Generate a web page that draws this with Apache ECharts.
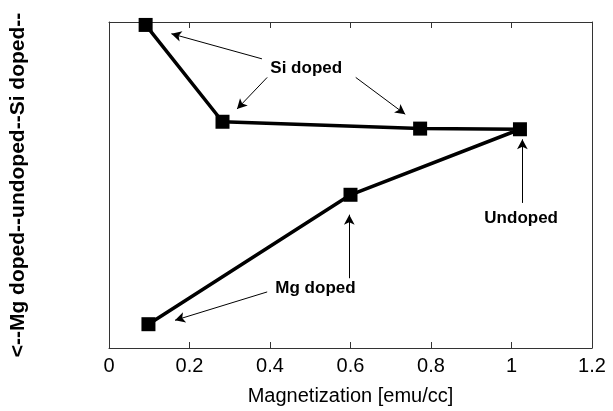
<!DOCTYPE html>
<html>
<head>
<meta charset="utf-8">
<script src="https://cdn.jsdelivr.net/npm/echarts@6/dist/echarts.min.js"></script>
<style>
  html, body { margin: 0; padding: 0; background: #fff; }
  #main { width: 613px; height: 411px; }
</style>
</head>
<body>
<div id="main"></div>
<script>
// 掺杂路径：Si doped -> undoped -> Mg doped，按顺序连线
var magX = [0.091, 0.282, 0.773, 1.021, 0.60, 0.098];
var dopeY = [0.991, 0.694, 0.673, 0.671, 0.470, 0.073];

var xTicks = [0, 0.2, 0.4, 0.6, 0.8, 1, 1.2];

// 注释文字 [x, y]
var notes = [
  { name: 'Si doped', at: [0.49, 0.858] },
  { name: 'Undoped', at: [1.024, 0.399] },
  { name: 'Mg doped', at: [0.513, 0.182] }
];

// 箭头 起点 -> 终点
var arrows = [
  [[0.38, 0.887], [0.155, 0.964]],
  [[0.393, 0.830], [0.318, 0.733]],
  [[0.613, 0.830], [0.736, 0.717]],
  [[1.027, 0.445], [1.027, 0.640]],
  [[0.393, 0.172], [0.164, 0.085]],
  [[0.597, 0.214], [0.597, 0.409]]
];

var font = '"Liberation Sans", Arial, Helvetica, sans-serif';
var axisCol = '#333';

var myChart = echarts.init(document.getElementById('main'));

var lineData = magX.map(function (x, i) { return [x, dopeY[i]]; });

var option = {
  backgroundColor: '#ffffff',
  animation: false,
  grid: { left: 103, right: 21, top: 22, bottom: 59 },
  xAxis: [
    {
      type: 'value',
      min: xTicks[0],
      max: xTicks[xTicks.length - 1],
      interval: 0.2,
      position: 'bottom',
      name: 'Magnetization [emu/cc]',
      nameLocation: 'middle',
      nameGap: 38,
      nameTextStyle: { fontFamily: font, fontSize: 20, color: '#000' },
      axisLine: { show: true, onZero: false, lineStyle: { color: axisCol, width: 1 } },
      axisTick: { show: true, inside: true, length: 6, lineStyle: { color: axisCol } },
      axisLabel: { fontFamily: font, fontSize: 20, color: '#000', margin: 8 },
      splitLine: { show: false }
    },
    {
      type: 'value',
      min: xTicks[0],
      max: xTicks[xTicks.length - 1],
      interval: 0.2,
      position: 'top',
      axisLine: { show: true, onZero: false, lineStyle: { color: axisCol, width: 1 } },
      axisTick: { show: true, inside: true, length: 6, lineStyle: { color: axisCol } },
      axisLabel: { show: false },
      splitLine: { show: false }
    }
  ],
  yAxis: [
    {
      type: 'value',
      min: 0,
      max: 1,
      position: 'left',
      name: '<--Mg doped--undoped--Si doped--',
      nameLocation: 'middle',
      nameGap: 80,
      nameTextStyle: { fontFamily: font, fontSize: 21, fontWeight: 'bold', color: '#000' },
      axisLine: { show: true, onZero: false, lineStyle: { color: axisCol, width: 1 } },
      axisTick: { show: false },
      axisLabel: { show: false },
      splitLine: { show: false }
    },
    {
      type: 'value',
      min: 0,
      max: 1,
      position: 'right',
      axisLine: { show: true, onZero: false, lineStyle: { color: axisCol, width: 1 } },
      axisTick: { show: false },
      axisLabel: { show: false },
      splitLine: { show: false }
    }
  ],
  series: [
    {
      type: 'line',
      data: lineData,
      symbol: 'rect',
      symbolSize: 14,
      lineStyle: { color: '#000', width: 3.5 },
      itemStyle: { color: '#000' },
      z: 3,
      markLine: {
        silent: true,
        symbol: ['none', 'arrow'],
        symbolSize: [8, 10],
        label: { show: false },
        lineStyle: { color: '#000', width: 1, type: 'solid' },
        data: arrows.map(function (a) {
          return [{ coord: a[0] }, { coord: a[1] }];
        })
      }
    },
    {
      type: 'scatter',
      symbolSize: 1,
      itemStyle: { color: 'rgba(0,0,0,0)' },
      label: {
        show: true,
        position: 'inside',
        formatter: '{b}',
        fontFamily: font,
        fontSize: 17,
        fontWeight: 'bold',
        color: '#000',
        textBorderWidth: 0,
        opacity: 1
      },
      data: notes.map(function (n) { return { name: n.name, value: n.at }; }),
      z: 4
    }
  ]
};

myChart.setOption(option, true);
</script>
</body>
</html>
